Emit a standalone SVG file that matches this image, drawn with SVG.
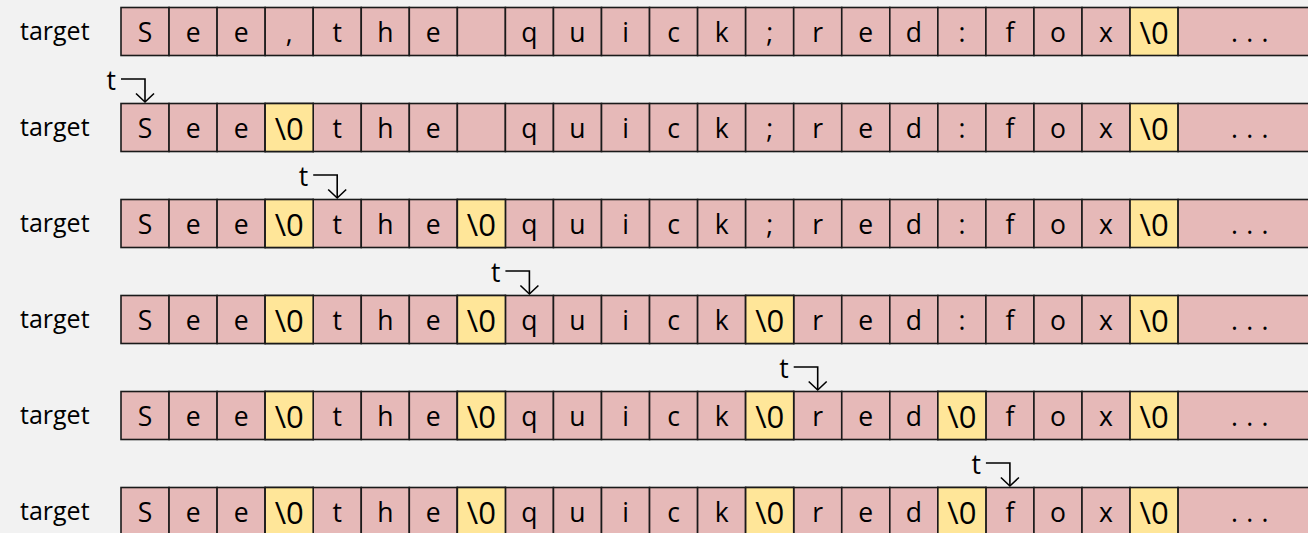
<svg xmlns="http://www.w3.org/2000/svg" width="1308" height="533" viewBox="0 0 1308 533">
<style>
text{font-family:"Open Sans","Liberation Sans",sans-serif;font-size:26.5px;fill:#000}
.lbl{font-size:25px}
.c{text-anchor:middle}
.z{font-size:31px}
.d{letter-spacing:0.7px}
.p{fill:#e6b9b8;stroke:#1a1a1a;stroke-width:1.6}
.y{fill:#ffe699;stroke:#1a1a1a;stroke-width:1.6}
.lnk{fill:none;stroke:#000;stroke-width:1.6;marker-end:url(#ah)}
</style>
<defs>
<marker id="ah" markerUnits="userSpaceOnUse" viewBox="-11 -11 13 22" markerWidth="13" markerHeight="22" refX="0" refY="0" orient="auto" overflow="visible">
<path d="M-8.5,-9 L0,0 L-8.5,9" fill="none" stroke="#000" stroke-width="1.6"/>
</marker>
<g id="rowbase">
<rect class="p" x="121" y="0" width="48.05" height="48"/>
<rect class="p" x="169.05" y="0" width="48.05" height="48"/>
<rect class="p" x="217.1" y="0" width="48.05" height="48"/>
<rect class="p" x="265.15" y="0" width="48.05" height="48"/>
<rect class="p" x="313.2" y="0" width="48.05" height="48"/>
<rect class="p" x="361.25" y="0" width="48.05" height="48"/>
<rect class="p" x="409.3" y="0" width="48.05" height="48"/>
<rect class="p" x="457.35" y="0" width="48.05" height="48"/>
<rect class="p" x="505.4" y="0" width="48.05" height="48"/>
<rect class="p" x="553.45" y="0" width="48.05" height="48"/>
<rect class="p" x="601.5" y="0" width="48.05" height="48"/>
<rect class="p" x="649.55" y="0" width="48.05" height="48"/>
<rect class="p" x="697.6" y="0" width="48.05" height="48"/>
<rect class="p" x="745.65" y="0" width="48.05" height="48"/>
<rect class="p" x="793.7" y="0" width="48.05" height="48"/>
<rect class="p" x="841.75" y="0" width="48.05" height="48"/>
<rect class="p" x="889.8" y="0" width="48.05" height="48"/>
<rect class="p" x="937.85" y="0" width="48.05" height="48"/>
<rect class="p" x="985.9" y="0" width="48.05" height="48"/>
<rect class="p" x="1033.95" y="0" width="48.05" height="48"/>
<rect class="p" x="1082" y="0" width="48.05" height="48"/>
<rect class="y" x="1130.05" y="0" width="48.05" height="48"/>
<rect class="p" x="1178.1" y="0" width="140" height="48"/>
</g>
</defs>
<rect width="1308" height="533" fill="#f2f2f2"/>

<g id="row1" transform="translate(0,7.5)">
<use href="#rowbase"/>
<text class="lbl" x="20" y="32.5">target</text>
<text class="c" y="34.5"><tspan x="145">S</tspan><tspan x="193.1">e</tspan><tspan x="241.1">e</tspan><tspan x="289.2">,</tspan><tspan x="337.2">t</tspan><tspan x="385.3">h</tspan><tspan x="433.3">e</tspan><tspan x="529.4">q</tspan><tspan x="577.5">u</tspan><tspan x="625.5">i</tspan><tspan x="673.6">c</tspan><tspan x="721.6">k</tspan><tspan x="769.7">;</tspan><tspan x="817.7">r</tspan><tspan x="865.8">e</tspan><tspan x="913.8">d</tspan><tspan x="961.9">:</tspan><tspan x="1009.9">f</tspan><tspan x="1058">o</tspan><tspan x="1106">x</tspan><tspan class="z" x="1154.1" y="36.5">\0</tspan><tspan class="d" x="1250" y="34.5">. . .</tspan></text>
</g>

<g id="row2" transform="translate(0,103.5)">
<use href="#rowbase"/>
<rect class="y" x="265.15" y="0" width="48.05" height="48"/>
<text class="lbl" x="20" y="32.5">target</text>
<text class="c" y="34.5"><tspan x="145">S</tspan><tspan x="193.1">e</tspan><tspan x="241.1">e</tspan><tspan class="z" x="289.2" y="36.5">\0</tspan><tspan x="337.2" y="34.5">t</tspan><tspan x="385.3">h</tspan><tspan x="433.3">e</tspan><tspan x="529.4">q</tspan><tspan x="577.5">u</tspan><tspan x="625.5">i</tspan><tspan x="673.6">c</tspan><tspan x="721.6">k</tspan><tspan x="769.7">;</tspan><tspan x="817.7">r</tspan><tspan x="865.8">e</tspan><tspan x="913.8">d</tspan><tspan x="961.9">:</tspan><tspan x="1009.9">f</tspan><tspan x="1058">o</tspan><tspan x="1106">x</tspan><tspan class="z" x="1154.1" y="36.5">\0</tspan><tspan class="d" x="1250" y="34.5">. . .</tspan></text>
</g>

<g id="row3" transform="translate(0,199.5)">
<use href="#rowbase"/>
<rect class="y" x="265.15" y="0" width="48.05" height="48"/>
<rect class="y" x="457.35" y="0" width="48.05" height="48"/>
<text class="lbl" x="20" y="32.5">target</text>
<text class="c" y="34.5"><tspan x="145">S</tspan><tspan x="193.1">e</tspan><tspan x="241.1">e</tspan><tspan class="z" x="289.2" y="36.5">\0</tspan><tspan x="337.2" y="34.5">t</tspan><tspan x="385.3">h</tspan><tspan x="433.3">e</tspan><tspan class="z" x="481.4" y="36.5">\0</tspan><tspan x="529.4" y="34.5">q</tspan><tspan x="577.5">u</tspan><tspan x="625.5">i</tspan><tspan x="673.6">c</tspan><tspan x="721.6">k</tspan><tspan x="769.7">;</tspan><tspan x="817.7">r</tspan><tspan x="865.8">e</tspan><tspan x="913.8">d</tspan><tspan x="961.9">:</tspan><tspan x="1009.9">f</tspan><tspan x="1058">o</tspan><tspan x="1106">x</tspan><tspan class="z" x="1154.1" y="36.5">\0</tspan><tspan class="d" x="1250" y="34.5">. . .</tspan></text>
</g>

<g id="row4" transform="translate(0,295.5)">
<use href="#rowbase"/>
<rect class="y" x="265.15" y="0" width="48.05" height="48"/>
<rect class="y" x="457.35" y="0" width="48.05" height="48"/>
<rect class="y" x="745.65" y="0" width="48.05" height="48"/>
<text class="lbl" x="20" y="32.5">target</text>
<text class="c" y="34.5"><tspan x="145">S</tspan><tspan x="193.1">e</tspan><tspan x="241.1">e</tspan><tspan class="z" x="289.2" y="36.5">\0</tspan><tspan x="337.2" y="34.5">t</tspan><tspan x="385.3">h</tspan><tspan x="433.3">e</tspan><tspan class="z" x="481.4" y="36.5">\0</tspan><tspan x="529.4" y="34.5">q</tspan><tspan x="577.5">u</tspan><tspan x="625.5">i</tspan><tspan x="673.6">c</tspan><tspan x="721.6">k</tspan><tspan class="z" x="769.7" y="36.5">\0</tspan><tspan x="817.7" y="34.5">r</tspan><tspan x="865.8">e</tspan><tspan x="913.8">d</tspan><tspan x="961.9">:</tspan><tspan x="1009.9">f</tspan><tspan x="1058">o</tspan><tspan x="1106">x</tspan><tspan class="z" x="1154.1" y="36.5">\0</tspan><tspan class="d" x="1250" y="34.5">. . .</tspan></text>
</g>

<g id="row5" transform="translate(0,391.5)">
<use href="#rowbase"/>
<rect class="y" x="265.15" y="0" width="48.05" height="48"/>
<rect class="y" x="457.35" y="0" width="48.05" height="48"/>
<rect class="y" x="745.65" y="0" width="48.05" height="48"/>
<rect class="y" x="937.85" y="0" width="48.05" height="48"/>
<text class="lbl" x="20" y="32.5">target</text>
<text class="c" y="34.5"><tspan x="145">S</tspan><tspan x="193.1">e</tspan><tspan x="241.1">e</tspan><tspan class="z" x="289.2" y="36.5">\0</tspan><tspan x="337.2" y="34.5">t</tspan><tspan x="385.3">h</tspan><tspan x="433.3">e</tspan><tspan class="z" x="481.4" y="36.5">\0</tspan><tspan x="529.4" y="34.5">q</tspan><tspan x="577.5">u</tspan><tspan x="625.5">i</tspan><tspan x="673.6">c</tspan><tspan x="721.6">k</tspan><tspan class="z" x="769.7" y="36.5">\0</tspan><tspan x="817.7" y="34.5">r</tspan><tspan x="865.8">e</tspan><tspan x="913.8">d</tspan><tspan class="z" x="961.9" y="36.5">\0</tspan><tspan x="1009.9" y="34.5">f</tspan><tspan x="1058">o</tspan><tspan x="1106">x</tspan><tspan class="z" x="1154.1" y="36.5">\0</tspan><tspan class="d" x="1250" y="34.5">. . .</tspan></text>
</g>

<g id="row6" transform="translate(0,487.5)">
<use href="#rowbase"/>
<rect class="y" x="265.15" y="0" width="48.05" height="48"/>
<rect class="y" x="457.35" y="0" width="48.05" height="48"/>
<rect class="y" x="745.65" y="0" width="48.05" height="48"/>
<rect class="y" x="937.85" y="0" width="48.05" height="48"/>
<text class="lbl" x="20" y="32.5">target</text>
<text class="c" y="34.5"><tspan x="145">S</tspan><tspan x="193.1">e</tspan><tspan x="241.1">e</tspan><tspan class="z" x="289.2" y="36.5">\0</tspan><tspan x="337.2" y="34.5">t</tspan><tspan x="385.3">h</tspan><tspan x="433.3">e</tspan><tspan class="z" x="481.4" y="36.5">\0</tspan><tspan x="529.4" y="34.5">q</tspan><tspan x="577.5">u</tspan><tspan x="625.5">i</tspan><tspan x="673.6">c</tspan><tspan x="721.6">k</tspan><tspan class="z" x="769.7" y="36.5">\0</tspan><tspan x="817.7" y="34.5">r</tspan><tspan x="865.8">e</tspan><tspan x="913.8">d</tspan><tspan class="z" x="961.9" y="36.5">\0</tspan><tspan x="1009.9" y="34.5">f</tspan><tspan x="1058">o</tspan><tspan x="1106">x</tspan><tspan class="z" x="1154.1" y="36.5">\0</tspan><tspan class="d" x="1250" y="34.5">. . .</tspan></text>
</g>

<g id="connectors">
<text x="116" y="90" text-anchor="end">t</text>
<path class="lnk" d="M121,79 H145 V102"/>
<text x="308.2" y="185.5" text-anchor="end">t</text>
<path class="lnk" d="M313.2,175 H337.2 V198"/>
<text x="500.4" y="281.5" text-anchor="end">t</text>
<path class="lnk" d="M505.4,271 H529.4 V294"/>
<text x="788.7" y="377.5" text-anchor="end">t</text>
<path class="lnk" d="M793.7,367 H817.7 V390"/>
<text x="980.9" y="473.5" text-anchor="end">t</text>
<path class="lnk" d="M985.9,463 H1009.9 V486"/>
</g>
</svg>
